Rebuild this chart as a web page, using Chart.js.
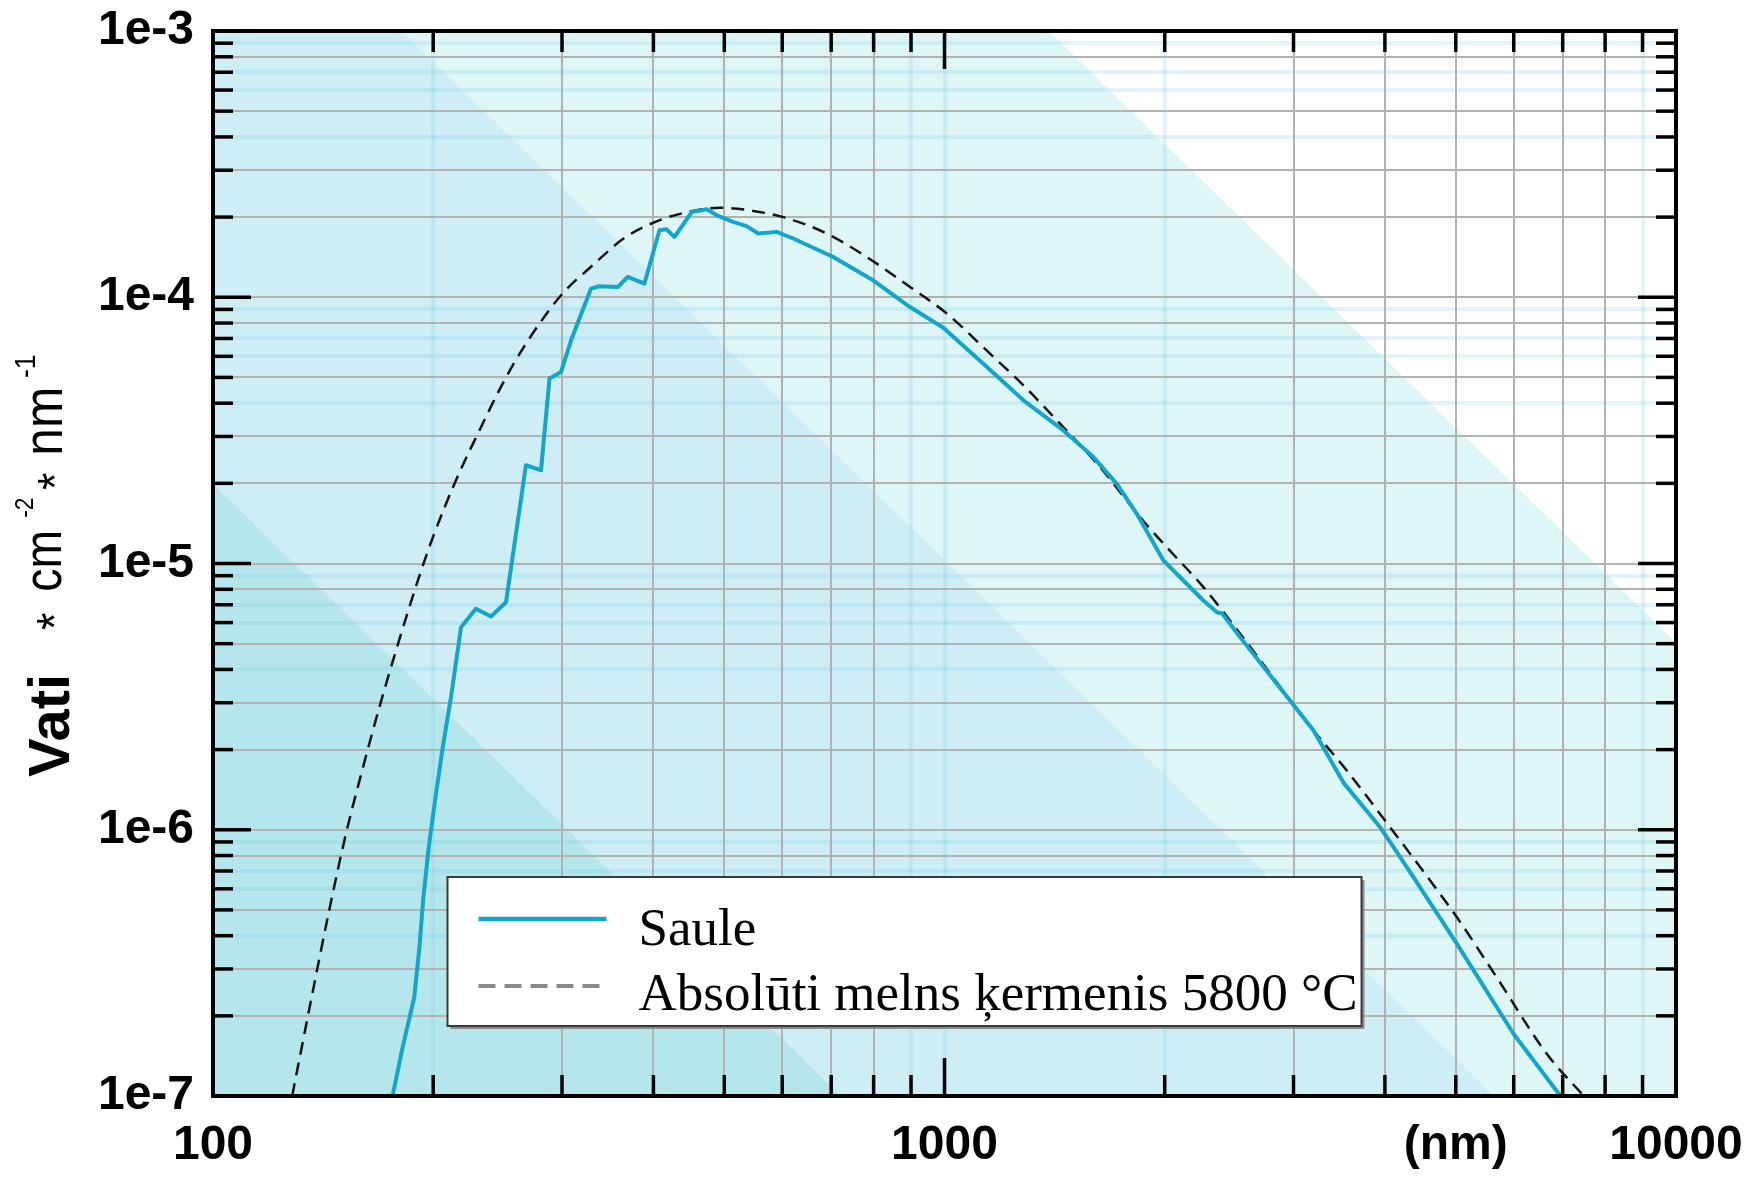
<!DOCTYPE html>
<html>
<head>
<meta charset="utf-8">
<script src="https://cdn.jsdelivr.net/npm/chart.js@4.4.1/dist/chart.umd.min.js"></script>
<style>html,body{margin:0;padding:0;background:#fff;}canvas{display:block;}</style>
</head>
<body>
<canvas id="c" width="1744" height="1178"></canvas>
<script>
// ---- data ----
const sauleWavelength = [176, 181.6, 188.4, 191.5, 193.9, 197.2, 201.4, 206.1, 211.5, 218.3, 228.8, 239.9, 251.5, 267.8, 280.8, 288.4, 299.1, 308.7, 328.7, 337.5, 357.6, 369.0, 388.9, 407.7, 416.6, 427.5, 451.4, 473.2, 490.5, 514.2, 536.4, 556.4, 589.5, 621.2, 704.6, 798.8, 897.1, 996.3, 1130, 1282, 1454, 1598, 1720, 1832, 1992, 2259, 2357, 2397, 2537, 2969, 3195, 3512, 3943, 4378, 5020, 5999, 6950];
const sauleIrradiance = [1.0e-7, 1.52e-7, 2.34e-7, 3.61e-7, 5.57e-7, 8.58e-7, 1.32e-6, 2.04e-6, 3.14e-6, 5.76e-6, 6.76e-6, 6.32e-6, 7.15e-6, 2.34e-5, 2.24e-5, 4.95e-5, 5.24e-5, 6.89e-5, 1.078e-4, 1.10e-4, 1.093e-4, 1.192e-4, 1.126e-4, 1.786e-4, 1.80e-4, 1.685e-4, 2.09e-4, 2.14e-4, 2.02e-4, 1.92e-4, 1.85e-4, 1.736e-4, 1.76e-4, 1.662e-4, 1.417e-4, 1.158e-4, 9.19e-5, 7.68e-5, 5.63e-5, 4.10e-5, 3.16e-5, 2.51e-5, 1.99e-5, 1.537e-5, 1.026e-5, 7.26e-6, 6.56e-6, 6.49e-6, 5.28e-6, 3.05e-6, 2.36e-6, 1.50e-6, 1.02e-6, 6.62e-7, 3.72e-7, 1.71e-7, 1.0e-7];

const blackbodyWavelength = [128.3, 135.4, 144.2, 151.9, 160.2, 168.8, 177.0, 190.5, 199.7, 214.8, 231.3, 248.9, 267.9, 299.1, 330.4, 366.9, 408.2, 452.9, 493.1, 547.7, 601.9, 690.0, 782.6, 897.1, 1007, 1154, 1282, 1424, 1632, 1851, 2013, 2259, 2537, 3195, 3549, 4068, 4615, 5020, 5692, 6665, 7480];
const blackbodyIrradiance = [1.0e-7, 2.12e-7, 5.0e-7, 9.6e-7, 1.70e-6, 2.88e-6, 4.5e-6, 8.6e-6, 1.25e-5, 2.05e-5, 3.16e-5, 4.74e-5, 6.70e-5, 1.017e-4, 1.319e-4, 1.685e-4, 1.948e-4, 2.11e-4, 2.17e-4, 2.11e-4, 2.00e-4, 1.736e-4, 1.417e-4, 1.093e-4, 8.69e-5, 6.14e-5, 4.67e-5, 3.45e-5, 2.3e-5, 1.493e-5, 1.151e-5, 8.15e-6, 5.44e-6, 2.36e-6, 1.667e-6, 1.02e-6, 6.43e-7, 4.68e-7, 2.78e-7, 1.434e-7, 1.0e-7];

const seriesNames = ['Saule', 'Absolūti melns ķermenis 5800 °C'];

const xLabelValues = [100, 1000, 5000, 10000];
const xLabelTexts = ['100', '1000', '(nm)', '10000'];
const yLabelValues = [1e-7, 1e-6, 1e-5, 1e-4, 1e-3];
const yLabelTexts = ['1e-7', '1e-6', '1e-5', '1e-4', '1e-3'];

const yTitleTexts = ['Vati', '*', 'cm', '-2', '*', 'nm', '-1'];

// ---- axis structure ----
function decadeTicks(minExp, maxExp) {
  const out = [];
  for (let e = minExp; e < maxExp; e++) {
    for (let m = 1; m <= 9; m++) out.push(e >= 0 ? m * 10 ** e : m / 10 ** (-e));
  }
  out.push(maxExp >= 0 ? 10 ** maxExp : 1 / 10 ** (-maxExp));
  return out;
}
const xTickValues = decadeTicks(2, 4);
const yTickValues = decadeTicks(-7, -3);
function mantissa(v) {
  const e = Math.floor(Math.log10(v) + 1e-9);
  return Math.round(v / 10 ** e);
}
const xFaintGrid = [200, 900, 1000, 2000, 9000];
const yFaintMantissa = [4, 6, 7, 9];

const GRID = '#b2b2b2';
const FAINT = 'rgba(130,205,228,0.24)';

// ---- plugins ----
const bandsPlugin = {
  id: 'bands',
  beforeDraw(chart) {
    const {ctx, chartArea: a} = chart;
    const W = a.right - a.left, H = a.bottom - a.top;
    const s = 0.975;
    ctx.save();
    ctx.beginPath(); ctx.rect(a.left, a.top, W, H); ctx.clip();
    ctx.fillStyle = '#ffffff'; ctx.fillRect(a.left, a.top, W, H);
    const band = (x0rel, color) => {
      const x0 = a.left + x0rel;
      const ext = H + 400;
      ctx.beginPath();
      ctx.moveTo(x0, a.top);
      ctx.lineTo(x0 + ext / s, a.top + ext);
      ctx.lineTo(a.left - 3000, a.top + ext);
      ctx.lineTo(a.left - 3000, a.top);
      ctx.closePath();
      ctx.fillStyle = color; ctx.fill();
    };
    band(W * 0.5713, '#dff6f6');
    band(W * 0.1289, '#ceedf5');
    band(-W * 0.3177, '#b4e6ec');
    ctx.restore();
  }
};

function fitRotatedText(ctx, text, font, x0, x1, y0, y1) {
  ctx.save();
  ctx.font = font;
  ctx.textAlign = 'left';
  ctx.textBaseline = 'alphabetic';
  const m = ctx.measureText(text);
  const w = m.actualBoundingBoxLeft + m.actualBoundingBoxRight;
  const h = m.actualBoundingBoxAscent + m.actualBoundingBoxDescent;
  const sx = (y1 - y0) / w;
  const sy = (x1 - x0) / h;
  const ox = x0 + sy * m.actualBoundingBoxAscent;
  const oy = y1 - sx * m.actualBoundingBoxLeft;
  ctx.translate(ox, oy);
  ctx.rotate(-Math.PI / 2);
  ctx.scale(sx, sy);
  ctx.fillStyle = '#000';
  ctx.fillText(text, 0, 0);
  ctx.restore();
}

const yTitlePlugin = {
  id: 'ytitle',
  afterDraw(chart) {
    const ctx = chart.ctx;
    const boxes = [
      ['bold 58px "Liberation Sans", Arial, sans-serif', 28, 70, 677, 777],
      ['45px "Liberation Sans", Arial, sans-serif', 37, 55, 613, 630],
      ['56px "Liberation Sans", Arial, sans-serif', 32, 62, 533, 590],
      ['28px "Liberation Sans", Arial, sans-serif', 15, 33, 498, 517],
      ['45px "Liberation Sans", Arial, sans-serif', 38, 55, 473, 490],
      ['56px "Liberation Sans", Arial, sans-serif', 32, 62, 390, 453],
      ['28px "Liberation Sans", Arial, sans-serif', 15, 35, 355, 377]
    ];
    yTitleTexts.forEach((t, i) => {
      const b = boxes[i];
      fitRotatedText(ctx, t, b[0], b[1], b[2], b[3], b[4]);
    });
  }
};

const legendPlugin = {
  id: 'boxlegend',
  afterDatasetsDraw(chart) {
    const {ctx, chartArea: a} = chart;
    const L = a.left + 234.5, T = a.top + 846, W = 914, H = 149;
    ctx.save();
    ctx.fillStyle = '#8c8c8c';
    ctx.fillRect(L + 3, T + 3, W, H);
    ctx.fillStyle = '#ffffff';
    ctx.fillRect(L, T, W, H);
    ctx.strokeStyle = '#3a3a3a';
    ctx.lineWidth = 2;
    ctx.strokeRect(L, T, W, H);
    const ds = chart.data.datasets;
    ctx.lineCap = 'butt';
    ctx.strokeStyle = ds[0].borderColor;
    ctx.lineWidth = 4.5;
    ctx.beginPath(); ctx.moveTo(L + 31, T + 42); ctx.lineTo(L + 159, T + 42); ctx.stroke();
    ctx.strokeStyle = '#8a8a8a';
    ctx.lineWidth = 4;
    ctx.setLineDash([17, 9]);
    ctx.beginPath(); ctx.moveTo(L + 31, T + 109); ctx.lineTo(L + 152, T + 109); ctx.stroke();
    ctx.setLineDash([]);
    ctx.fillStyle = '#000';
    ctx.font = '53px "Liberation Serif", "Times New Roman", serif';
    ctx.textAlign = 'left';
    ctx.textBaseline = 'alphabetic';
    ctx.fillText(ds[0].label, L + 191, T + 68);
    ctx.fillText(ds[1].label, L + 191, T + 133);
    ctx.restore();
  }
};

const framePlugin = {
  id: 'frame',
  afterDraw(chart) {
    const {ctx, chartArea: a, scales: {x, y}} = chart;
    ctx.save();
    ctx.strokeStyle = '#000';
    ctx.lineCap = 'butt';
    ctx.lineWidth = 3.5;
    const seg = (x1, y1, x2, y2) => { ctx.beginPath(); ctx.moveTo(x1, y1); ctx.lineTo(x2, y2); ctx.stroke(); };
    x.ticks.forEach(t => {
      const px = x.getPixelForValue(t.value);
      const len = mantissa(t.value) === 1 ? 38 : 21;
      seg(px, a.bottom, px, a.bottom - len);
      seg(px, a.top, px, a.top + len);
    });
    y.ticks.forEach(t => {
      const py = y.getPixelForValue(t.value);
      const len = mantissa(t.value) === 1 ? 38 : 20;
      seg(a.left, py, a.left + len, py);
      seg(a.right, py, a.right - len, py);
    });
    ctx.lineWidth = 4;
    ctx.strokeRect(a.left, a.top, a.right - a.left, a.bottom - a.top);
    ctx.restore();
  }
};

const zeroPad = s => { s.paddingLeft = 0; s.paddingRight = 0; s.paddingTop = 0; s.paddingBottom = 0; };
const tickFont = { family: '"Liberation Sans", Arial, sans-serif', size: 48, weight: 'bold' };

new Chart(document.getElementById('c'), {
  type: 'line',
  data: {
    datasets: [
      {
        label: seriesNames[0],
        data: sauleWavelength.map((w, i) => ({ x: w, y: sauleIrradiance[i] })),
        borderColor: '#12a6ca',
        borderWidth: 4,
        pointRadius: 0,
        tension: 0,
        borderJoinStyle: 'round',
        order: 0
      },
      {
        label: seriesNames[1],
        data: blackbodyWavelength.map((w, i) => ({ x: w, y: blackbodyIrradiance[i] })),
        borderColor: '#151515',
        borderWidth: 2.5,
        borderDash: [13, 8],
        pointRadius: 0,
        cubicInterpolationMode: 'monotone',
        order: 1
      }
    ]
  },
  options: {
    responsive: false,
    animation: false,
    devicePixelRatio: 1,
    layout: { padding: { top: 31, right: 68, bottom: 0, left: 0 } },
    plugins: { legend: { display: false }, tooltip: { enabled: false } },
    scales: {
      x: {
        type: 'logarithmic',
        min: 100,
        max: 10000,
        afterBuildTicks: s => { s.ticks = xTickValues.map(v => ({ value: v })); },
        afterFit: s => { s.height = 82; zeroPad(s); },
        border: { display: false },
        grid: {
          drawTicks: false,
          color: c => (c.tick && xFaintGrid.includes(c.tick.value)) ? FAINT : GRID,
          lineWidth: c => (c.tick && xFaintGrid.includes(c.tick.value)) ? 4 : 2
        },
        ticks: {
          autoSkip: false,
          maxRotation: 0,
          minRotation: 0,
          padding: 21,
          color: '#000',
          font: tickFont,
          callback: v => { const i = xLabelValues.indexOf(v); return i >= 0 ? xLabelTexts[i] : ''; }
        }
      },
      y: {
        type: 'logarithmic',
        min: 1e-7,
        max: 1e-3,
        afterBuildTicks: s => { s.ticks = yTickValues.map(v => ({ value: v })); },
        afterFit: s => { s.width = 213; zeroPad(s); },
        border: { display: false },
        grid: {
          drawTicks: false,
          color: c => (c.tick && yFaintMantissa.includes(mantissa(c.tick.value))) ? FAINT : GRID,
          lineWidth: c => (c.tick && yFaintMantissa.includes(mantissa(c.tick.value))) ? 4 : 2
        },
        ticks: {
          autoSkip: false,
          padding: 19,
          color: '#000',
          font: tickFont,
          callback: v => { const i = yLabelValues.indexOf(v); return i >= 0 ? yLabelTexts[i] : ''; }
        }
      }
    }
  },
  plugins: [bandsPlugin, legendPlugin, framePlugin, yTitlePlugin]
});
</script>
</body>
</html>
